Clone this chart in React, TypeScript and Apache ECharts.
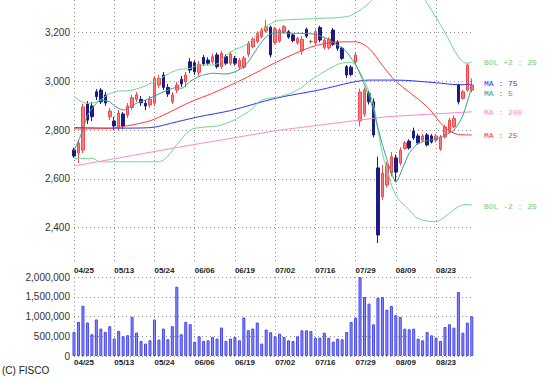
import React, { useEffect, useRef } from 'react';
import * as echarts from 'echarts';

const dates = [
  '04/25','04/26','04/30','05/01','05/02','05/07','05/08','05/09','05/10','05/13',
  '05/14','05/15','05/16','05/17','05/20','05/21','05/22','05/23','05/24','05/27',
  '05/28','05/29','05/30','05/31','06/03','06/04','06/05','06/06','06/07','06/10',
  '06/11','06/12','06/13','06/14','06/17','06/18','06/19','06/20','06/21','06/24',
  '06/25','06/26','06/27','06/28','07/01','07/02','07/03','07/04','07/05','07/08',
  '07/09','07/10','07/11','07/12','07/16','07/17','07/18','07/19','07/22','07/23',
  '07/24','07/25','07/26','07/29','07/30','07/31','08/01','08/02','08/05','08/06',
  '08/07','08/08','08/09','08/13','08/14','08/15','08/16','08/19','08/20','08/21',
  '08/22','08/23','08/26','08/27','08/28','08/29','08/30','09/02','09/03','09/04',
];

const openP = [
  2718,2706,2718,2907,2899,2957,2964,2944,2855,2837,
  2809,2866,2862,2893,2926,2926,2910,2903,2910,2985,
  3026,2975,2916,2964,3008,2998,3080,3076,3037,3098,
  3087,3080,3108,3060,3101,3074,3094,3058,3058,3111,
  3142,3163,3183,3206,3222,3159,3165,3202,3203,3190,
  3158,3125,3213,3163,3157,3220,3138,3138,3210,3161,
  3136,3060,3058,3079,2837,2866,2950,2916,2645,2527,
  2575,2624,2686,2665,2725,2755,2796,2776,2759,2780,
  2776,2759,2722,2772,2793,2814,2985,2930,2964,2964,
];
const closeP = [
  2694,2747,2895,2841,2855,2937,2916,2911,2878,2817,
  2870,2817,2899,2933,2944,2912,2899,2926,3012,3012,
  2975,2948,2944,2985,2989,3026,3046,3039,3070,3071,
  3074,3101,3060,3115,3074,3112,3074,3086,3095,3156,
  3173,3197,3210,3224,3108,3214,3210,3224,3181,3167,
  3176,3172,3185,3163,3203,3169,3169,3173,3152,3135,
  3094,3026,3028,3108,2956,2964,2916,2780,2370,2623,
  2657,2691,2628,2718,2747,2727,2768,2747,2776,2739,
  2751,2776,2772,2813,2841,2848,2916,2957,3067,2985,
];
const lowP = [
  2686,2665,2706,2825,2837,2923,2907,2899,2841,2800,
  2796,2804,2850,2882,2915,2899,2882,2891,2899,2973,
  2964,2936,2907,2952,2977,2975,3034,3026,3022,3062,
  3065,3072,3052,3050,3066,3066,3064,3046,3050,3100,
  3135,3155,3176,3200,3098,3150,3158,3195,3174,3160,
  3150,3108,3178,3155,3150,3160,3130,3130,3145,3125,
  3087,3014,3020,3070,2815,2855,2905,2770,2337,2513,
  2565,2610,2590,2655,2720,2720,2760,2740,2752,2733,
  2745,2750,2715,2765,2786,2808,2905,2925,2957,2955,
];
const highP = [
  2728,2759,2907,2919,2915,2968,2972,2956,2891,2854,
  2882,2874,2911,2944,2956,2940,2923,2940,3022,3026,
  3038,2989,2956,2997,3022,3038,3095,3087,3083,3108,
  3098,3112,3118,3125,3110,3122,3103,3096,3104,3165,
  3180,3205,3220,3251,3228,3224,3218,3231,3210,3197,
  3183,3185,3220,3170,3212,3228,3178,3180,3218,3168,
  3142,3067,3066,3118,2970,2975,2960,2930,2691,2657,
  2670,2710,2700,2730,2755,2762,2810,2785,2784,2788,
  2784,2784,2780,2822,2850,2860,2990,2965,3075,3012,
];

const volume = [
  613,868,1277,851,553,928,698,613,757,443,
  638,502,528,996,596,383,315,400,928,417,
  698,426,757,1762,553,868,809,357,502,383,
  400,485,443,723,383,443,485,400,979,655,
  698,851,315,672,605,500,568,483,398,381,
  500,652,652,636,466,466,593,466,364,441,
  424,610,864,975,2000,1500,1331,805,1483,1500,
  1178,1271,1034,992,695,678,695,441,398,610,
  525,466,381,737,805,720,1627,593,847,1008,
].map((v) => v * 1000);

// moving averages / bands at [day index, value]
const ma5Pts = [[0,2715],[2,2800],[3,2860],[5,2910],[6,2923],[8,2916],[9,2900],[11,2882],[12,2888],[14,2910],[16,2923],[18,2940],[21,2964],[23,2975],[24,2971],[26,3000],[28,3020],[29,3026],[31,3033],[34,3030],[36,3039],[38,3060],[39,3080],[41,3135],[43,3183],[45,3200],[48,3197],[53,3195],[56,3180],[58,3160],[60,3135],[61,3120],[62,3095],[63,3070],[64,3030],[65,2985],[66,2940],[67,2880],[68,2810],[69,2740],[70,2680],[71,2625],[72,2585],[73,2620],[74,2665],[75,2705],[77,2746],[80,2760],[82,2770],[84,2788],[85,2800],[86,2825],[87,2860],[88,2915],[89,2980]];
const ma25Pts = [[0,2805],[8,2807],[12,2818],[17,2838],[21,2870],[26,2915],[31,2951],[38,3010],[46,3085],[53,3140],[58,3160],[63,3162],[66,3135],[69,3065],[72,3000],[79,2896],[83,2810],[86,2782],[89,2780]];
const ma75Pts = [[0,2810],[10,2808],[17,2810],[23,2834],[28,2855],[35,2880],[45,2930],[55,2965],[62,2995],[66,3005],[72,3005],[81,2994],[86,2986],[89,2988]];
const ma200Pts = [[0,2653],[24,2732],[46,2800],[70,2855],[89,2875]];
const bolUpPts = [[0,2937],[3,2910],[5,2915],[9,2957],[13,2964],[18,2998],[23,3046],[26,3053],[28,3067],[31,3067],[35,3120],[39,3156],[42,3210],[45,3245],[47,3251],[55,3258],[61,3265],[63,3280],[66,3320],[68,3360],[72,3410],[76,3400],[79,3320],[83,3200],[86,3101],[88,3074],[89,3080]];
const bolLoPts = [[0,2684],[4,2684],[6,2670],[13,2670],[18,2670],[20,2677],[23,2740],[26,2800],[28,2810],[33,2821],[39,2875],[42,2923],[46,2937],[50,2964],[53,3005],[57,3050],[60,3075],[62,3078],[63,3065],[65,3000],[67,2903],[68,2800],[69,2705],[70,2640],[72,2534],[75,2473],[77,2438],[81,2425],[83,2445],[86,2486],[88,2495],[89,2492]];

const legendLabels = [
  { text: 'BOL +2 : 25', color: '#5fcf80', y: 63 },
  { text: 'MA : 75', color: '#2f2fff', y: 84 },
  { text: 'MA : 5', color: '#3a9a9a', y: 93.5 },
  { text: 'MA : 200', color: '#ff8ccc', y: 113 },
  { text: 'MA : 25', color: '#ff3a3a', y: 136 },
  { text: 'BOL -2 : 25', color: '#5fcf80', y: 207 },
];

const fmt = (v: number) => Math.round(v).toLocaleString('en-US');

export default function App() {
  const ref = useRef<HTMLDivElement>(null);
  useEffect(() => {
    if (!ref.current) return;
    const chart = echarts.init(ref.current, undefined, { renderer: 'svg' });
    const grid = { color: '#8e8e8e', type: [1, 3] as any, width: 1 };
    const xCommon = (gi: number) => ({
      type: 'category',
      gridIndex: gi,
      data: dates,
      boundaryGap: false,
      axisLine: { show: false },
      axisTick: { show: false },
      axisLabel: {
        interval: 8,
        align: 'left',
        fontSize: 8,
        fontWeight: 'bold',
        color: '#222',
        fontFamily: 'Liberation Sans',
        margin: 2,
      },
      splitLine: { show: true, interval: 8, lineStyle: grid },
    });
    const line = (name: string, data: number[][], color: string, smooth = 0.3) => ({
      name,
      type: 'line',
      xAxisIndex: 0,
      yAxisIndex: 0,
      data,
      showSymbol: false,
      smooth,
      lineStyle: { color, width: 1 },
      itemStyle: { color },
      clip: true,
      z: 3,
    });
    chart.setOption({
      animation: false,
      backgroundColor: '#ffffff',
      grid: [
        { left: 74, top: 0, width: 397.8, height: 264 },
        { left: 74, top: 277.3, width: 397.8, height: 78.7 },
      ],
      xAxis: [xCommon(0), xCommon(1)],
      yAxis: [
        {
          type: 'value',
          gridIndex: 0,
          min: 2251.2,
          max: 3333.2,
          splitNumber: 5,
          axisLine: { show: false },
          axisTick: { show: false },
          axisLabel: {
            formatter: fmt,
            fontSize: 10,
            color: '#333',
            fontFamily: 'Liberation Sans',
            margin: 4,
            showMinLabel: false,
            showMaxLabel: false,
          },
          splitLine: { show: true, showMinLine: false, showMaxLine: false, lineStyle: grid },
        },
        {
          type: 'value',
          gridIndex: 1,
          min: 0,
          max: 2000000,
          interval: 500000,
          axisLine: { show: false },
          axisTick: { show: false },
          axisLabel: {
            formatter: fmt,
            fontSize: 10,
            color: '#333',
            fontFamily: 'Liberation Sans',
            margin: 4,
          },
          splitLine: { show: true, lineStyle: grid },
        },
      ],
      series: [
        {
          type: 'candlestick',
          xAxisIndex: 0,
          yAxisIndex: 0,
          data: dates.map((_, i) => [openP[i], closeP[i], lowP[i], highP[i]]),
          barWidth: 3,
          clip: false,
          itemStyle: {
            color: '#ff7a7a',
            color0: '#1c1c82',
            borderColor: '#f24a4a',
            borderColor0: '#1c1c82',
            borderColorDoji: '#3a9a3a',
            borderWidth: 1,
          },
        },
        line('MA200', ma200Pts, '#ff8ccc', 0),
        line('MA75', ma75Pts, '#2f2fff'),
        line('MA25', ma25Pts, '#ff3a3a'),
        line('BOL+2', bolUpPts, '#6fd98c', 0.4),
        line('BOL-2', bolLoPts, '#6fd98c', 0.4),
        line('MA5', ma5Pts, '#3a9a9a', 0.2),
        {
          type: 'bar',
          xAxisIndex: 1,
          yAxisIndex: 1,
          data: volume,
          barWidth: 3,
          itemStyle: { color: '#8c8cff', borderColor: '#4646ee', borderWidth: 1 },
        },
      ],
      graphic: [
        ...legendLabels.map((l) => ({
          type: 'text',
          left: 484,
          top: l.y - 4.5,
          style: { text: l.text, fill: l.color, font: '8px "Liberation Mono", monospace' },
        })),
        {
          type: 'text',
          left: 2,
          top: 365,
          style: { text: '(C) FISCO', fill: '#222', font: '10px "Liberation Sans", sans-serif' },
        },
      ],
    });
    return () => chart.dispose();
  }, []);
  return (
    <div
      ref={ref}
      style={{ position: 'fixed', left: 0, top: 0, width: 557, height: 381, background: '#fff' }}
    />
  );
}
